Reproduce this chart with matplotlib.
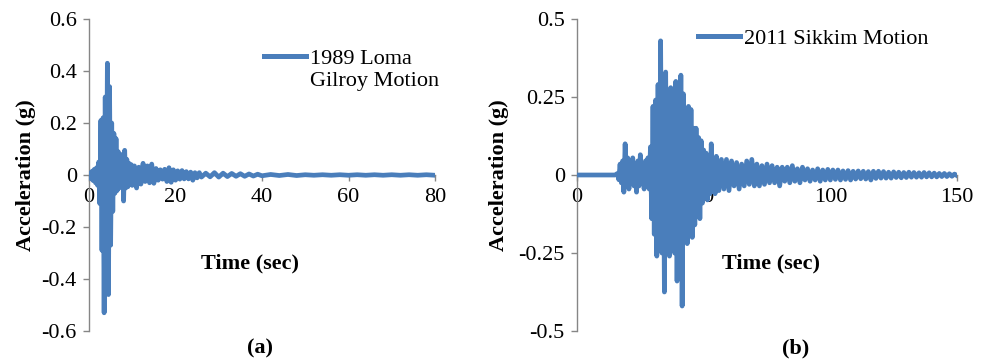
import numpy as np
import matplotlib
matplotlib.use('Agg')
import matplotlib.pyplot as plt

plt.rcParams['font.family'] = ['Liberation Serif', 'DejaVu Serif']

# ---------------- data (peaks) ----------------
loma_time = [0, 0.25, 0.5, 0.75, 1.0, 1.25, 1.5, 1.75, 2.0, 2.25, 2.5, 2.75,
             3.0, 3.25, 3.5, 3.75, 4.0, 4.25, 4.5, 4.75, 5.0, 5.25, 5.5, 5.75,
             6.0, 6.25, 6.5, 6.75, 7.0, 7.25, 7.5, 7.75, 8.0, 8.25, 8.5, 8.75,
             9.0, 9.25, 9.5, 9.75, 10.0,
             10.5, 11.0, 11.5, 12.0, 12.5, 13.0, 13.5, 14.0, 14.5, 15.0, 15.5,
             16.0, 16.5, 17.0, 17.5, 18.0, 18.5, 19.0, 19.5, 20.0, 20.5, 21.0,
             21.5, 22.0, 22.5, 23.0, 23.5, 24.0, 24.5, 25.0, 25.5, 26.0,
             27, 28, 29, 30, 31, 32, 33, 34, 35, 36, 37, 38, 39, 40,
             42, 44, 46, 48, 50, 52, 54, 56, 58, 60, 62, 64, 66, 68, 70, 72,
             74, 76, 78, 80]
loma_accel = [0.0, 0.008, -0.015, 0.015, -0.022, 0.022, -0.03, 0.028, -0.04, 0.05, -0.11, 0.21,
              -0.29, 0.22, -0.53, 0.30, -0.39, 0.43, -0.46, 0.34, -0.27, 0.20, -0.14, 0.16,
              -0.07, 0.14, -0.06, 0.09, -0.05, 0.08, -0.045, 0.07, -0.10, 0.095, -0.05, 0.06,
              -0.045, 0.045, -0.035, 0.04, -0.04,
              0.035, -0.05, 0.03, -0.035, 0.045, -0.025, 0.035, -0.03, 0.042, -0.032, 0.025,
              -0.02, 0.02, -0.016, 0.022, -0.025, 0.028, -0.028, 0.02, -0.02, 0.016, -0.016,
              0.017, -0.015, 0.013, -0.015, 0.011, -0.02, 0.009, -0.011, 0.009, -0.008,
              0.007, -0.007, 0.009, -0.008, 0.007, -0.006, 0.006, -0.005, 0.005, -0.005, 0.004, -0.004, 0.003, -0.003,
              0.002, -0.002, 0.002, -0.002, 0.001, -0.001, 0.001, -0.001, 0.001, -0.001, 0.001, -0.001, 0.001, -0.001, 0.001, -0.001,
              0.001, -0.001, 0.001, -0.001]

sikkim_time = [0, 15,
               16, 16.5, 17, 17.5, 18, 18.5, 19, 19.5, 20, 20.5, 21, 21.5, 22, 22.5,
               23, 23.5, 24, 24.5, 25, 25.5, 26, 26.5, 27, 27.5, 28, 28.5,
               29, 29.5, 30, 30.5, 31, 31.5, 32, 32.5, 33, 33.5, 34, 34.5, 35, 35.5,
               36, 36.5, 37, 37.5, 38, 38.5, 39, 39.5, 40, 40.5, 41, 41.5, 42, 42.5,
               43, 43.5, 44, 44.5, 45, 45.5, 46, 46.5, 47, 47.5, 48, 48.5, 49, 49.5,
               50, 50.5, 51, 51.5, 52, 52.5, 53, 53.5, 54, 54.5, 55,
               56, 57, 58, 59, 60, 61, 62, 63, 64, 65, 66, 67, 68, 69, 70, 71, 72,
               73, 74, 75, 76, 77, 78, 79, 80, 81, 82, 83, 84, 85, 86, 87, 88, 89,
               90, 91, 92, 93, 94, 95, 96, 97, 98, 99,
               100, 101, 102, 103, 104, 105, 106, 107, 108, 109, 110, 111, 112,
               113, 114, 115, 116, 117, 118, 119, 120, 121, 122, 123, 124, 125,
               126, 127, 128, 129, 130, 131, 132, 133, 134, 135, 136, 137, 138,
               139, 140, 141, 142, 143, 144, 145, 146, 147, 148, 149, 150]
sikkim_accel = [0.0, 0.0,
                0.005, -0.015, 0.035, -0.025, 0.045, -0.055, 0.10, -0.035, 0.055, -0.045, 0.045, -0.025, 0.055, -0.035,
                0.035, -0.055, 0.045, -0.035, 0.065, -0.025, 0.035, -0.045, 0.045, -0.035, 0.055, -0.045,
                0.09, -0.14, 0.22, -0.19, 0.24, -0.26, 0.29, -0.23, 0.43, -0.25, 0.29, -0.375, 0.33, -0.24,
                0.26, -0.26, 0.28, -0.24, 0.27, -0.25, 0.30, -0.34, 0.24, -0.26, 0.32, -0.42, 0.26, -0.21,
                0.21, -0.22, 0.22, -0.19, 0.21, -0.20, 0.15, -0.16, 0.15, -0.13, 0.12, -0.14, 0.11, -0.09,
                0.08, -0.07, 0.07, -0.08, 0.06, -0.06, 0.10, -0.05, 0.05, -0.06, 0.06,
                -0.05, 0.05, -0.045, 0.05, -0.05, 0.045, -0.035, 0.04, -0.045, 0.035, -0.035, 0.045, -0.03, 0.05, -0.035, 0.035, -0.035,
                0.03, -0.03, 0.035, -0.025, 0.03, -0.025, 0.025, -0.035, 0.025, -0.02, 0.025, -0.025, 0.03, -0.02, 0.02, -0.025, 0.025,
                -0.016, 0.02, -0.02, 0.016, -0.016, 0.02, -0.02, 0.016, -0.016, 0.018,
                -0.016, 0.016, -0.014, 0.016, -0.016, 0.013, -0.014, 0.014, -0.016, 0.012, -0.013, 0.013, -0.012,
                0.012, -0.013, 0.011, -0.016, 0.012, -0.011, 0.012, -0.01, 0.011, -0.01, 0.009, -0.01, 0.01,
                -0.008, 0.009, -0.009, 0.008, -0.008, 0.009, -0.007, 0.008, -0.007, 0.007, -0.007, 0.008, -0.006,
                0.007, -0.006, 0.006, -0.006, 0.005, -0.005, 0.005, -0.005, 0.004, -0.004, 0.003, -0.002]

loma_xticks = [0, 20, 40, 60, 80]
loma_yticks = [-0.6, -0.4, -0.2, 0, 0.2, 0.4, 0.6]
loma_yticklabels = ['-0.6', '-0.4', '-0.2', '0', '0.2', '0.4', '0.6']
sikkim_xticks = [0, 50, 100, 150]
sikkim_yticks = [-0.5, -0.25, 0, 0.25, 0.5]
sikkim_yticklabels = ['-0.5', '-0.25', '0', '0.25', '0.5']

# ---------------- style ----------------
W, H = 988, 364
BLUE = '#4A7EBB'
GRAY = '#868686'
FS = 16
LW = 3.4

fig = plt.figure(figsize=(W / 100, H / 100), dpi=100)


def style(ax, xticks, yticks, yticklabels, xlim, ylim):
    ax.set_xlim(*xlim)
    ax.set_ylim(*ylim)
    for s in ['top', 'right']:
        ax.spines[s].set_visible(False)
    ax.spines['bottom'].set_position(('data', 0))
    for s in ['left', 'bottom']:
        ax.spines[s].set_color(GRAY)
        ax.spines[s].set_linewidth(1.0)
    ax.set_xticks(xticks)
    ax.set_xticklabels([str(v) for v in xticks])
    ax.set_yticks(yticks)
    ax.set_yticklabels(yticklabels)
    ax.tick_params(axis='both', colors=GRAY, labelcolor='black', labelsize=FS,
                   direction='out', length=4.3, width=1.0)
    ax.tick_params(axis='y', pad=4.5)
    ax.tick_params(axis='x', pad=5)
    ax.patch.set_alpha(0)


# panel (a)
ax1 = fig.add_axes([89 / W, 1 - 331 / H, (435 - 89) / W, 312 / H])
ax1.plot(loma_time, loma_accel, color=BLUE, lw=LW, zorder=3,
         solid_joinstyle='round', label='1989 Loma\nGilroy Motion')
style(ax1, loma_xticks, loma_yticks, loma_yticklabels, (0, 80), (-0.6, 0.6))
leg1 = ax1.legend(loc='upper left', bbox_to_anchor=(264 / W, 1 - 50 / H),
                  bbox_transform=fig.transFigure, frameon=False, fontsize=FS,
                  handlelength=1.9, handletextpad=0.15, borderpad=0, borderaxespad=0)
for ln in leg1.get_lines():
    ln.set_linewidth(3.6)
    ln.set_ydata(np.asarray(ln.get_ydata()) + 9.6)

# panel (b)
ax2 = fig.add_axes([577 / W, 1 - 331 / H, 380 / W, 312 / H])
ax2.plot(sikkim_time, sikkim_accel, color=BLUE, lw=LW, zorder=3,
         solid_joinstyle='round', label='2011 Sikkim Motion')
style(ax2, sikkim_xticks, sikkim_yticks, sikkim_yticklabels, (0, 150), (-0.5, 0.5))
leg2 = ax2.legend(loc='upper left', bbox_to_anchor=(698 / W, 1 - 28.5 / H),
                  bbox_transform=fig.transFigure, frameon=False, fontsize=FS,
                  handlelength=1.9, handletextpad=0.15, borderpad=0, borderaxespad=0)
for ln in leg2.get_lines():
    ln.set_linewidth(3.6)

# labels
def ftext(x, y, s, **kw):
    fig.text(x / W, 1 - y / H, s, ha='center', va='center', fontsize=FS,
             fontweight='bold', **kw)

ftext(26, 175, 'Acceleration (g)', rotation=90)
ftext(250, 263, 'Time (sec)')
ftext(260, 348, '(a)')
ftext(499, 175, 'Acceleration (g)', rotation=90)
ftext(771, 263, 'Time (sec)')
ftext(796, 348, '(b)')

fig.savefig('out.png', dpi=100)
